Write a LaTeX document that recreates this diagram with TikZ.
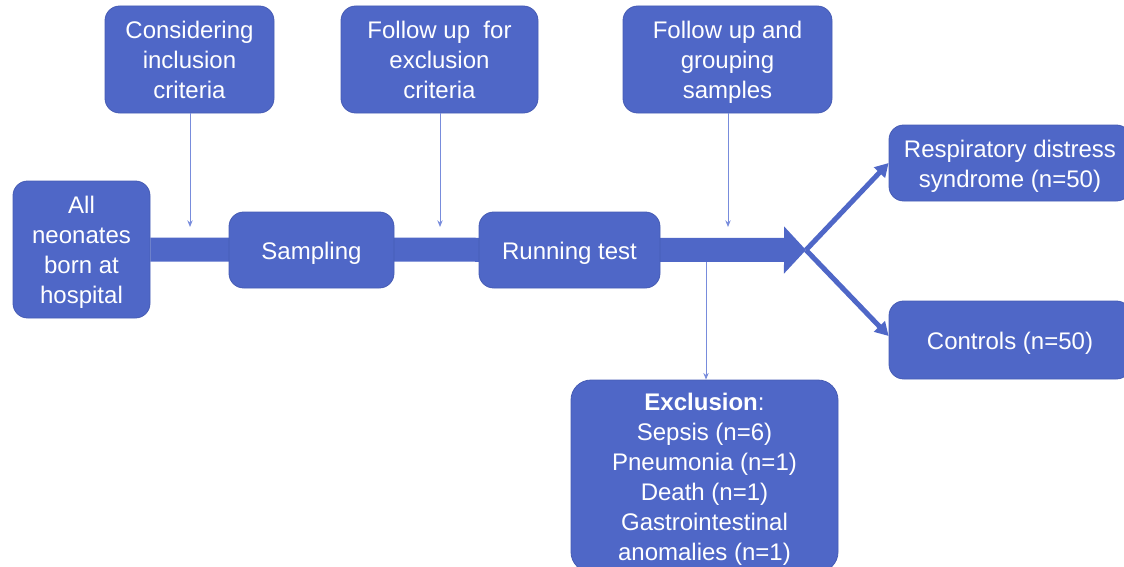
\documentclass[tikz,border=0pt]{standalone}
\usepackage{fontspec}
\setmainfont{Liberation Sans}
\usetikzlibrary{arrows.meta,backgrounds}
\definecolor{boxblue}{RGB}{79,103,199}
\definecolor{boxedge}{RGB}{70,92,180}
\definecolor{thinblue}{RGB}{120,140,220}
\newcommand{\tb}[1]{\raisebox{-2.25pt}[\height][\depth]{\begin{tabular}{@{}c@{}}#1\end{tabular}}}
\tikzset{
  box/.style={draw=boxedge, line width=0.6pt, fill=boxblue, rounded corners=11pt,
    text=white, inner sep=2pt,
    font=\fontsize{18}{22.5}\selectfont},
  thinarrow/.style={draw=thinblue, line width=0.75pt, -{Stealth[length=5pt,width=4pt]}},
  mainbar/.style={draw=boxblue, line width=18pt, -{Triangle[length=16.5pt,width=34.5pt]}},
  splitarrow/.style={draw=boxblue, line width=3.75pt, -{Triangle[length=10pt,width=11pt]}}
}
\begin{document}
\begin{tikzpicture}[x=0.75pt,y=-0.75pt]
\useasboundingbox (0,0) rectangle (1124,567);
% main boxes
\node[box, minimum width=102.75pt, minimum height=102.75pt] (all) at (81.5,249.5) {\tb{All\\neonates\\born at\\hospital}};
\node[box, minimum width=123.75pt, minimum height=57pt] (samp) at (311.5,250) {\tb{Sampling}};
\node[box, minimum width=135.75pt, minimum height=57pt] (run) at (569.5,250) {\tb{Running test}};
% top boxes
\node[box, minimum width=126.75pt, minimum height=80.25pt] (incl) at (189.5,59.5) {\tb{Considering\\inclusion\\criteria}};
\node[box, minimum width=147.75pt, minimum height=80.25pt] (fexc) at (439.5,59.5) {\tb{Follow up\ \ for\\exclusion\\criteria}};
\node[box, minimum width=156.75pt, minimum height=80.25pt] (fgrp) at (727.5,59.5) {\tb{Follow up and\\grouping\\samples}};
% right boxes
\node[box, minimum width=181.5pt, minimum height=57pt] (rds) at (1010,163) {\tb{Respiratory distress\\syndrome (n=50)}};
\node[box, minimum width=181.5pt, minimum height=58.5pt] (ctrl) at (1010,340) {\tb{Controls (n=50)}};
% exclusion box
\node[box, rounded corners=15pt, minimum width=200.25pt, minimum height=144pt] (excl) at (704.5,476)
  {\tb{\textbf{Exclusion}:\\Sepsis (n=6)\\Pneumonia (n=1)\\Death (n=1)\\Gastrointestinal\\anomalies (n=1)}};
% coordinates
\coordinate (tip) at (806,250);
\coordinate (a1) at (190,227);
\coordinate (a2) at (440,227);
\coordinate (a3) at (728,227);
\coordinate (ex) at (706,262);
% main bar behind boxes
\begin{scope}[on background layer]
\draw[mainbar] (all.east) -- (tip);
\end{scope}
% thin arrows
\draw[thinarrow] (incl.south -| a1) -- (a1);
\draw[thinarrow] (fexc.south -| a2) -- (a2);
\draw[thinarrow] (fgrp.south -| a3) -- (a3);
\draw[thinarrow] (ex) -- (excl.north -| ex);
% split arrows
\draw[splitarrow] (tip) -- (rds.west);
\draw[splitarrow] (tip) -- ([yshift=3pt]ctrl.west);
\end{tikzpicture}
\end{document}
